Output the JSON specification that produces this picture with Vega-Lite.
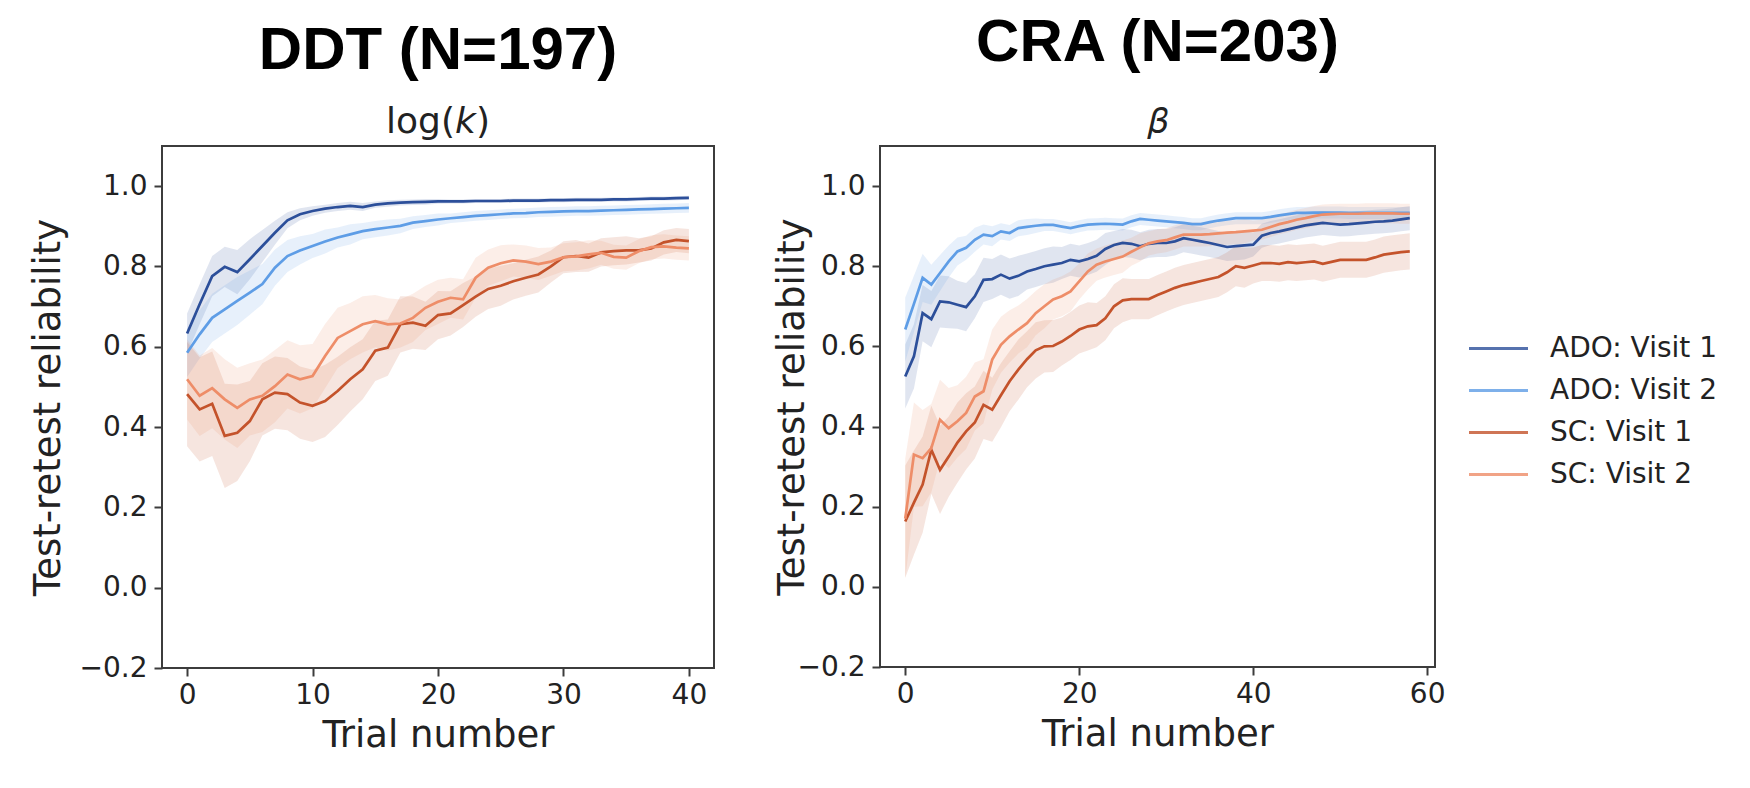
{
  "$schema": "https://vega.github.io/schema/vega-lite/v6.json",
  "background": "white",
  "padding": {"left": 28, "top": 12, "right": 0, "bottom": 0},
  "config": {
    "font": "DejaVu Sans",
    "view": {"stroke": "#3c3c3c", "strokeWidth": 2},
    "axis": {
      "grid": false, "domain": false,
      "tickColor": "#3c3c3c", "tickWidth": 2, "tickSize": 8,
      "labelFont": "DejaVu Sans", "labelFontSize": 28, "labelColor": "#222222",
      "titleFont": "DejaVu Sans", "titleFontSize": 37, "titleFontWeight": "normal", "titleColor": "#222222"
    },
    "axisX": {"labelPadding": 5, "titlePadding": 8},
    "axisY": {"labelPadding": 7, "titlePadding": 12},
    "title": {
      "font": "Liberation Sans", "fontSize": 60, "fontWeight": "bold", "color": "#000000",
      "anchor": "middle", "offset": 5,
      "subtitleFont": "DejaVu Sans", "subtitleFontSize": 36, "subtitleColor": "#222222"
    }
  },
  "datasets": {
    "curves": [
      {"k":"DDT","s":"ADO: Visit 1","t":0,"r":0.633,"lo":0.583,"hi":0.683},
      {"k":"DDT","s":"ADO: Visit 1","t":1,"r":0.706,"lo":0.656,"hi":0.756},
      {"k":"DDT","s":"ADO: Visit 1","t":2,"r":0.776,"lo":0.726,"hi":0.826},
      {"k":"DDT","s":"ADO: Visit 1","t":3,"r":0.799,"lo":0.749,"hi":0.849},
      {"k":"DDT","s":"ADO: Visit 1","t":4,"r":0.786,"lo":0.731,"hi":0.841},
      {"k":"DDT","s":"ADO: Visit 1","t":5,"r":0.818,"lo":0.768,"hi":0.868},
      {"k":"DDT","s":"ADO: Visit 1","t":6,"r":0.851,"lo":0.811,"hi":0.891},
      {"k":"DDT","s":"ADO: Visit 1","t":7,"r":0.884,"lo":0.854,"hi":0.914},
      {"k":"DDT","s":"ADO: Visit 1","t":8,"r":0.915,"lo":0.895,"hi":0.935},
      {"k":"DDT","s":"ADO: Visit 1","t":9,"r":0.930,"lo":0.915,"hi":0.945},
      {"k":"DDT","s":"ADO: Visit 1","t":10,"r":0.938,"lo":0.926,"hi":0.950},
      {"k":"DDT","s":"ADO: Visit 1","t":11,"r":0.944,"lo":0.934,"hi":0.954},
      {"k":"DDT","s":"ADO: Visit 1","t":12,"r":0.948,"lo":0.938,"hi":0.958},
      {"k":"DDT","s":"ADO: Visit 1","t":13,"r":0.951,"lo":0.941,"hi":0.961},
      {"k":"DDT","s":"ADO: Visit 1","t":14,"r":0.948,"lo":0.938,"hi":0.958},
      {"k":"DDT","s":"ADO: Visit 1","t":15,"r":0.954,"lo":0.946,"hi":0.962},
      {"k":"DDT","s":"ADO: Visit 1","t":16,"r":0.957,"lo":0.949,"hi":0.965},
      {"k":"DDT","s":"ADO: Visit 1","t":17,"r":0.959,"lo":0.952,"hi":0.966},
      {"k":"DDT","s":"ADO: Visit 1","t":18,"r":0.960,"lo":0.953,"hi":0.967},
      {"k":"DDT","s":"ADO: Visit 1","t":19,"r":0.961,"lo":0.954,"hi":0.968},
      {"k":"DDT","s":"ADO: Visit 1","t":20,"r":0.962,"lo":0.956,"hi":0.968},
      {"k":"DDT","s":"ADO: Visit 1","t":21,"r":0.962,"lo":0.957,"hi":0.967},
      {"k":"DDT","s":"ADO: Visit 1","t":22,"r":0.962,"lo":0.957,"hi":0.967},
      {"k":"DDT","s":"ADO: Visit 1","t":23,"r":0.963,"lo":0.958,"hi":0.968},
      {"k":"DDT","s":"ADO: Visit 1","t":24,"r":0.963,"lo":0.958,"hi":0.968},
      {"k":"DDT","s":"ADO: Visit 1","t":25,"r":0.963,"lo":0.958,"hi":0.968},
      {"k":"DDT","s":"ADO: Visit 1","t":26,"r":0.964,"lo":0.959,"hi":0.969},
      {"k":"DDT","s":"ADO: Visit 1","t":27,"r":0.964,"lo":0.959,"hi":0.969},
      {"k":"DDT","s":"ADO: Visit 1","t":28,"r":0.964,"lo":0.959,"hi":0.969},
      {"k":"DDT","s":"ADO: Visit 1","t":29,"r":0.965,"lo":0.960,"hi":0.970},
      {"k":"DDT","s":"ADO: Visit 1","t":30,"r":0.965,"lo":0.960,"hi":0.970},
      {"k":"DDT","s":"ADO: Visit 1","t":31,"r":0.966,"lo":0.961,"hi":0.971},
      {"k":"DDT","s":"ADO: Visit 1","t":32,"r":0.966,"lo":0.961,"hi":0.971},
      {"k":"DDT","s":"ADO: Visit 1","t":33,"r":0.966,"lo":0.961,"hi":0.971},
      {"k":"DDT","s":"ADO: Visit 1","t":34,"r":0.967,"lo":0.962,"hi":0.972},
      {"k":"DDT","s":"ADO: Visit 1","t":35,"r":0.967,"lo":0.962,"hi":0.972},
      {"k":"DDT","s":"ADO: Visit 1","t":36,"r":0.968,"lo":0.963,"hi":0.973},
      {"k":"DDT","s":"ADO: Visit 1","t":37,"r":0.969,"lo":0.964,"hi":0.974},
      {"k":"DDT","s":"ADO: Visit 1","t":38,"r":0.969,"lo":0.964,"hi":0.974},
      {"k":"DDT","s":"ADO: Visit 1","t":39,"r":0.970,"lo":0.965,"hi":0.975},
      {"k":"DDT","s":"ADO: Visit 1","t":40,"r":0.971,"lo":0.966,"hi":0.976},

      {"k":"DDT","s":"ADO: Visit 2","t":0,"r":0.585,"lo":0.525,"hi":0.645},
      {"k":"DDT","s":"ADO: Visit 2","t":1,"r":0.631,"lo":0.571,"hi":0.691},
      {"k":"DDT","s":"ADO: Visit 2","t":2,"r":0.672,"lo":0.612,"hi":0.732},
      {"k":"DDT","s":"ADO: Visit 2","t":3,"r":0.693,"lo":0.633,"hi":0.753},
      {"k":"DDT","s":"ADO: Visit 2","t":4,"r":0.714,"lo":0.654,"hi":0.774},
      {"k":"DDT","s":"ADO: Visit 2","t":5,"r":0.735,"lo":0.680,"hi":0.790},
      {"k":"DDT","s":"ADO: Visit 2","t":6,"r":0.756,"lo":0.706,"hi":0.806},
      {"k":"DDT","s":"ADO: Visit 2","t":7,"r":0.797,"lo":0.752,"hi":0.842},
      {"k":"DDT","s":"ADO: Visit 2","t":8,"r":0.826,"lo":0.786,"hi":0.866},
      {"k":"DDT","s":"ADO: Visit 2","t":9,"r":0.840,"lo":0.805,"hi":0.875},
      {"k":"DDT","s":"ADO: Visit 2","t":10,"r":0.851,"lo":0.821,"hi":0.881},
      {"k":"DDT","s":"ADO: Visit 2","t":11,"r":0.862,"lo":0.832,"hi":0.892},
      {"k":"DDT","s":"ADO: Visit 2","t":12,"r":0.872,"lo":0.847,"hi":0.897},
      {"k":"DDT","s":"ADO: Visit 2","t":13,"r":0.880,"lo":0.855,"hi":0.905},
      {"k":"DDT","s":"ADO: Visit 2","t":14,"r":0.888,"lo":0.868,"hi":0.908},
      {"k":"DDT","s":"ADO: Visit 2","t":15,"r":0.893,"lo":0.873,"hi":0.913},
      {"k":"DDT","s":"ADO: Visit 2","t":16,"r":0.897,"lo":0.877,"hi":0.917},
      {"k":"DDT","s":"ADO: Visit 2","t":17,"r":0.901,"lo":0.883,"hi":0.919},
      {"k":"DDT","s":"ADO: Visit 2","t":18,"r":0.909,"lo":0.893,"hi":0.925},
      {"k":"DDT","s":"ADO: Visit 2","t":19,"r":0.913,"lo":0.898,"hi":0.928},
      {"k":"DDT","s":"ADO: Visit 2","t":20,"r":0.917,"lo":0.902,"hi":0.932},
      {"k":"DDT","s":"ADO: Visit 2","t":21,"r":0.920,"lo":0.908,"hi":0.932},
      {"k":"DDT","s":"ADO: Visit 2","t":22,"r":0.923,"lo":0.911,"hi":0.935},
      {"k":"DDT","s":"ADO: Visit 2","t":23,"r":0.926,"lo":0.914,"hi":0.938},
      {"k":"DDT","s":"ADO: Visit 2","t":24,"r":0.928,"lo":0.916,"hi":0.940},
      {"k":"DDT","s":"ADO: Visit 2","t":25,"r":0.930,"lo":0.918,"hi":0.942},
      {"k":"DDT","s":"ADO: Visit 2","t":26,"r":0.932,"lo":0.920,"hi":0.944},
      {"k":"DDT","s":"ADO: Visit 2","t":27,"r":0.933,"lo":0.921,"hi":0.945},
      {"k":"DDT","s":"ADO: Visit 2","t":28,"r":0.935,"lo":0.923,"hi":0.947},
      {"k":"DDT","s":"ADO: Visit 2","t":29,"r":0.936,"lo":0.924,"hi":0.948},
      {"k":"DDT","s":"ADO: Visit 2","t":30,"r":0.937,"lo":0.925,"hi":0.949},
      {"k":"DDT","s":"ADO: Visit 2","t":31,"r":0.938,"lo":0.926,"hi":0.950},
      {"k":"DDT","s":"ADO: Visit 2","t":32,"r":0.938,"lo":0.926,"hi":0.950},
      {"k":"DDT","s":"ADO: Visit 2","t":33,"r":0.939,"lo":0.927,"hi":0.951},
      {"k":"DDT","s":"ADO: Visit 2","t":34,"r":0.940,"lo":0.928,"hi":0.952},
      {"k":"DDT","s":"ADO: Visit 2","t":35,"r":0.941,"lo":0.929,"hi":0.953},
      {"k":"DDT","s":"ADO: Visit 2","t":36,"r":0.942,"lo":0.930,"hi":0.954},
      {"k":"DDT","s":"ADO: Visit 2","t":37,"r":0.943,"lo":0.931,"hi":0.955},
      {"k":"DDT","s":"ADO: Visit 2","t":38,"r":0.944,"lo":0.932,"hi":0.956},
      {"k":"DDT","s":"ADO: Visit 2","t":39,"r":0.945,"lo":0.933,"hi":0.957},
      {"k":"DDT","s":"ADO: Visit 2","t":40,"r":0.946,"lo":0.934,"hi":0.958},

      {"k":"DDT","s":"SC: Visit 1","t":0,"r":0.482,"lo":0.352,"hi":0.612},
      {"k":"DDT","s":"SC: Visit 1","t":1,"r":0.444,"lo":0.314,"hi":0.574},
      {"k":"DDT","s":"SC: Visit 1","t":2,"r":0.458,"lo":0.328,"hi":0.588},
      {"k":"DDT","s":"SC: Visit 1","t":3,"r":0.378,"lo":0.248,"hi":0.508},
      {"k":"DDT","s":"SC: Visit 1","t":4,"r":0.386,"lo":0.266,"hi":0.506},
      {"k":"DDT","s":"SC: Visit 1","t":5,"r":0.415,"lo":0.315,"hi":0.515},
      {"k":"DDT","s":"SC: Visit 1","t":6,"r":0.469,"lo":0.379,"hi":0.559},
      {"k":"DDT","s":"SC: Visit 1","t":7,"r":0.486,"lo":0.396,"hi":0.576},
      {"k":"DDT","s":"SC: Visit 1","t":8,"r":0.482,"lo":0.392,"hi":0.572},
      {"k":"DDT","s":"SC: Visit 1","t":9,"r":0.461,"lo":0.371,"hi":0.551},
      {"k":"DDT","s":"SC: Visit 1","t":10,"r":0.453,"lo":0.363,"hi":0.543},
      {"k":"DDT","s":"SC: Visit 1","t":11,"r":0.465,"lo":0.375,"hi":0.555},
      {"k":"DDT","s":"SC: Visit 1","t":12,"r":0.490,"lo":0.405,"hi":0.575},
      {"k":"DDT","s":"SC: Visit 1","t":13,"r":0.519,"lo":0.439,"hi":0.599},
      {"k":"DDT","s":"SC: Visit 1","t":14,"r":0.544,"lo":0.469,"hi":0.619},
      {"k":"DDT","s":"SC: Visit 1","t":15,"r":0.590,"lo":0.515,"hi":0.665},
      {"k":"DDT","s":"SC: Visit 1","t":16,"r":0.598,"lo":0.528,"hi":0.668},
      {"k":"DDT","s":"SC: Visit 1","t":17,"r":0.656,"lo":0.586,"hi":0.726},
      {"k":"DDT","s":"SC: Visit 1","t":18,"r":0.660,"lo":0.595,"hi":0.725},
      {"k":"DDT","s":"SC: Visit 1","t":19,"r":0.652,"lo":0.592,"hi":0.712},
      {"k":"DDT","s":"SC: Visit 1","t":20,"r":0.679,"lo":0.619,"hi":0.739},
      {"k":"DDT","s":"SC: Visit 1","t":21,"r":0.683,"lo":0.628,"hi":0.738},
      {"k":"DDT","s":"SC: Visit 1","t":22,"r":0.704,"lo":0.649,"hi":0.759},
      {"k":"DDT","s":"SC: Visit 1","t":23,"r":0.725,"lo":0.675,"hi":0.775},
      {"k":"DDT","s":"SC: Visit 1","t":24,"r":0.744,"lo":0.694,"hi":0.794},
      {"k":"DDT","s":"SC: Visit 1","t":25,"r":0.752,"lo":0.702,"hi":0.802},
      {"k":"DDT","s":"SC: Visit 1","t":26,"r":0.763,"lo":0.718,"hi":0.808},
      {"k":"DDT","s":"SC: Visit 1","t":27,"r":0.772,"lo":0.727,"hi":0.817},
      {"k":"DDT","s":"SC: Visit 1","t":28,"r":0.780,"lo":0.735,"hi":0.825},
      {"k":"DDT","s":"SC: Visit 1","t":29,"r":0.800,"lo":0.760,"hi":0.840},
      {"k":"DDT","s":"SC: Visit 1","t":30,"r":0.823,"lo":0.783,"hi":0.863},
      {"k":"DDT","s":"SC: Visit 1","t":31,"r":0.826,"lo":0.786,"hi":0.866},
      {"k":"DDT","s":"SC: Visit 1","t":32,"r":0.822,"lo":0.787,"hi":0.857},
      {"k":"DDT","s":"SC: Visit 1","t":33,"r":0.835,"lo":0.800,"hi":0.870},
      {"k":"DDT","s":"SC: Visit 1","t":34,"r":0.838,"lo":0.803,"hi":0.873},
      {"k":"DDT","s":"SC: Visit 1","t":35,"r":0.840,"lo":0.805,"hi":0.875},
      {"k":"DDT","s":"SC: Visit 1","t":36,"r":0.840,"lo":0.810,"hi":0.870},
      {"k":"DDT","s":"SC: Visit 1","t":37,"r":0.845,"lo":0.815,"hi":0.875},
      {"k":"DDT","s":"SC: Visit 1","t":38,"r":0.860,"lo":0.830,"hi":0.890},
      {"k":"DDT","s":"SC: Visit 1","t":39,"r":0.866,"lo":0.836,"hi":0.896},
      {"k":"DDT","s":"SC: Visit 1","t":40,"r":0.863,"lo":0.833,"hi":0.893},

      {"k":"DDT","s":"SC: Visit 2","t":0,"r":0.519,"lo":0.419,"hi":0.619},
      {"k":"DDT","s":"SC: Visit 2","t":1,"r":0.478,"lo":0.378,"hi":0.578},
      {"k":"DDT","s":"SC: Visit 2","t":2,"r":0.497,"lo":0.397,"hi":0.597},
      {"k":"DDT","s":"SC: Visit 2","t":3,"r":0.469,"lo":0.369,"hi":0.569},
      {"k":"DDT","s":"SC: Visit 2","t":4,"r":0.448,"lo":0.348,"hi":0.548},
      {"k":"DDT","s":"SC: Visit 2","t":5,"r":0.469,"lo":0.379,"hi":0.559},
      {"k":"DDT","s":"SC: Visit 2","t":6,"r":0.478,"lo":0.388,"hi":0.568},
      {"k":"DDT","s":"SC: Visit 2","t":7,"r":0.502,"lo":0.412,"hi":0.592},
      {"k":"DDT","s":"SC: Visit 2","t":8,"r":0.531,"lo":0.446,"hi":0.616},
      {"k":"DDT","s":"SC: Visit 2","t":9,"r":0.519,"lo":0.434,"hi":0.604},
      {"k":"DDT","s":"SC: Visit 2","t":10,"r":0.527,"lo":0.447,"hi":0.607},
      {"k":"DDT","s":"SC: Visit 2","t":11,"r":0.577,"lo":0.497,"hi":0.657},
      {"k":"DDT","s":"SC: Visit 2","t":12,"r":0.622,"lo":0.547,"hi":0.697},
      {"k":"DDT","s":"SC: Visit 2","t":13,"r":0.639,"lo":0.569,"hi":0.709},
      {"k":"DDT","s":"SC: Visit 2","t":14,"r":0.656,"lo":0.586,"hi":0.726},
      {"k":"DDT","s":"SC: Visit 2","t":15,"r":0.664,"lo":0.599,"hi":0.729},
      {"k":"DDT","s":"SC: Visit 2","t":16,"r":0.656,"lo":0.591,"hi":0.721},
      {"k":"DDT","s":"SC: Visit 2","t":17,"r":0.658,"lo":0.598,"hi":0.718},
      {"k":"DDT","s":"SC: Visit 2","t":18,"r":0.672,"lo":0.612,"hi":0.732},
      {"k":"DDT","s":"SC: Visit 2","t":19,"r":0.697,"lo":0.642,"hi":0.752},
      {"k":"DDT","s":"SC: Visit 2","t":20,"r":0.712,"lo":0.657,"hi":0.767},
      {"k":"DDT","s":"SC: Visit 2","t":21,"r":0.722,"lo":0.672,"hi":0.772},
      {"k":"DDT","s":"SC: Visit 2","t":22,"r":0.718,"lo":0.668,"hi":0.768},
      {"k":"DDT","s":"SC: Visit 2","t":23,"r":0.772,"lo":0.722,"hi":0.822},
      {"k":"DDT","s":"SC: Visit 2","t":24,"r":0.797,"lo":0.752,"hi":0.842},
      {"k":"DDT","s":"SC: Visit 2","t":25,"r":0.808,"lo":0.763,"hi":0.853},
      {"k":"DDT","s":"SC: Visit 2","t":26,"r":0.815,"lo":0.775,"hi":0.855},
      {"k":"DDT","s":"SC: Visit 2","t":27,"r":0.812,"lo":0.772,"hi":0.852},
      {"k":"DDT","s":"SC: Visit 2","t":28,"r":0.806,"lo":0.766,"hi":0.846},
      {"k":"DDT","s":"SC: Visit 2","t":29,"r":0.812,"lo":0.777,"hi":0.847},
      {"k":"DDT","s":"SC: Visit 2","t":30,"r":0.823,"lo":0.788,"hi":0.858},
      {"k":"DDT","s":"SC: Visit 2","t":31,"r":0.825,"lo":0.790,"hi":0.860},
      {"k":"DDT","s":"SC: Visit 2","t":32,"r":0.830,"lo":0.795,"hi":0.865},
      {"k":"DDT","s":"SC: Visit 2","t":33,"r":0.834,"lo":0.804,"hi":0.864},
      {"k":"DDT","s":"SC: Visit 2","t":34,"r":0.824,"lo":0.794,"hi":0.854},
      {"k":"DDT","s":"SC: Visit 2","t":35,"r":0.822,"lo":0.792,"hi":0.852},
      {"k":"DDT","s":"SC: Visit 2","t":36,"r":0.838,"lo":0.808,"hi":0.868},
      {"k":"DDT","s":"SC: Visit 2","t":37,"r":0.848,"lo":0.818,"hi":0.878},
      {"k":"DDT","s":"SC: Visit 2","t":38,"r":0.850,"lo":0.820,"hi":0.880},
      {"k":"DDT","s":"SC: Visit 2","t":39,"r":0.847,"lo":0.817,"hi":0.877},
      {"k":"DDT","s":"SC: Visit 2","t":40,"r":0.845,"lo":0.815,"hi":0.875},

      {"k":"CRA","s":"ADO: Visit 1","t":0,"r":0.525,"lo":0.445,"hi":0.605},
      {"k":"CRA","s":"ADO: Visit 1","t":1,"r":0.575,"lo":0.495,"hi":0.655},
      {"k":"CRA","s":"ADO: Visit 1","t":2,"r":0.683,"lo":0.613,"hi":0.753},
      {"k":"CRA","s":"ADO: Visit 1","t":3,"r":0.668,"lo":0.598,"hi":0.738},
      {"k":"CRA","s":"ADO: Visit 1","t":4,"r":0.712,"lo":0.647,"hi":0.777},
      {"k":"CRA","s":"ADO: Visit 1","t":5,"r":0.710,"lo":0.645,"hi":0.775},
      {"k":"CRA","s":"ADO: Visit 1","t":6,"r":0.704,"lo":0.644,"hi":0.764},
      {"k":"CRA","s":"ADO: Visit 1","t":7,"r":0.698,"lo":0.638,"hi":0.758},
      {"k":"CRA","s":"ADO: Visit 1","t":8,"r":0.725,"lo":0.670,"hi":0.780},
      {"k":"CRA","s":"ADO: Visit 1","t":9,"r":0.766,"lo":0.711,"hi":0.821},
      {"k":"CRA","s":"ADO: Visit 1","t":10,"r":0.768,"lo":0.718,"hi":0.818},
      {"k":"CRA","s":"ADO: Visit 1","t":11,"r":0.779,"lo":0.729,"hi":0.829},
      {"k":"CRA","s":"ADO: Visit 1","t":12,"r":0.769,"lo":0.719,"hi":0.819},
      {"k":"CRA","s":"ADO: Visit 1","t":13,"r":0.776,"lo":0.726,"hi":0.826},
      {"k":"CRA","s":"ADO: Visit 1","t":14,"r":0.787,"lo":0.742,"hi":0.832},
      {"k":"CRA","s":"ADO: Visit 1","t":15,"r":0.793,"lo":0.748,"hi":0.838},
      {"k":"CRA","s":"ADO: Visit 1","t":16,"r":0.800,"lo":0.755,"hi":0.845},
      {"k":"CRA","s":"ADO: Visit 1","t":17,"r":0.804,"lo":0.759,"hi":0.849},
      {"k":"CRA","s":"ADO: Visit 1","t":18,"r":0.808,"lo":0.768,"hi":0.848},
      {"k":"CRA","s":"ADO: Visit 1","t":19,"r":0.816,"lo":0.776,"hi":0.856},
      {"k":"CRA","s":"ADO: Visit 1","t":20,"r":0.812,"lo":0.772,"hi":0.852},
      {"k":"CRA","s":"ADO: Visit 1","t":21,"r":0.818,"lo":0.778,"hi":0.858},
      {"k":"CRA","s":"ADO: Visit 1","t":22,"r":0.826,"lo":0.786,"hi":0.866},
      {"k":"CRA","s":"ADO: Visit 1","t":23,"r":0.843,"lo":0.803,"hi":0.883},
      {"k":"CRA","s":"ADO: Visit 1","t":24,"r":0.853,"lo":0.818,"hi":0.888},
      {"k":"CRA","s":"ADO: Visit 1","t":25,"r":0.858,"lo":0.823,"hi":0.893},
      {"k":"CRA","s":"ADO: Visit 1","t":26,"r":0.856,"lo":0.821,"hi":0.891},
      {"k":"CRA","s":"ADO: Visit 1","t":27,"r":0.850,"lo":0.815,"hi":0.885},
      {"k":"CRA","s":"ADO: Visit 1","t":28,"r":0.856,"lo":0.821,"hi":0.891},
      {"k":"CRA","s":"ADO: Visit 1","t":29,"r":0.858,"lo":0.823,"hi":0.893},
      {"k":"CRA","s":"ADO: Visit 1","t":30,"r":0.858,"lo":0.823,"hi":0.893},
      {"k":"CRA","s":"ADO: Visit 1","t":31,"r":0.862,"lo":0.827,"hi":0.897},
      {"k":"CRA","s":"ADO: Visit 1","t":32,"r":0.870,"lo":0.835,"hi":0.905},
      {"k":"CRA","s":"ADO: Visit 1","t":33,"r":0.866,"lo":0.831,"hi":0.901},
      {"k":"CRA","s":"ADO: Visit 1","t":34,"r":0.862,"lo":0.827,"hi":0.897},
      {"k":"CRA","s":"ADO: Visit 1","t":35,"r":0.858,"lo":0.823,"hi":0.893},
      {"k":"CRA","s":"ADO: Visit 1","t":36,"r":0.853,"lo":0.818,"hi":0.888},
      {"k":"CRA","s":"ADO: Visit 1","t":37,"r":0.848,"lo":0.813,"hi":0.883},
      {"k":"CRA","s":"ADO: Visit 1","t":38,"r":0.850,"lo":0.815,"hi":0.885},
      {"k":"CRA","s":"ADO: Visit 1","t":39,"r":0.852,"lo":0.817,"hi":0.887},
      {"k":"CRA","s":"ADO: Visit 1","t":40,"r":0.854,"lo":0.824,"hi":0.884},
      {"k":"CRA","s":"ADO: Visit 1","t":41,"r":0.876,"lo":0.846,"hi":0.906},
      {"k":"CRA","s":"ADO: Visit 1","t":42,"r":0.883,"lo":0.853,"hi":0.913},
      {"k":"CRA","s":"ADO: Visit 1","t":43,"r":0.887,"lo":0.857,"hi":0.917},
      {"k":"CRA","s":"ADO: Visit 1","t":44,"r":0.892,"lo":0.862,"hi":0.922},
      {"k":"CRA","s":"ADO: Visit 1","t":45,"r":0.897,"lo":0.867,"hi":0.927},
      {"k":"CRA","s":"ADO: Visit 1","t":46,"r":0.902,"lo":0.872,"hi":0.932},
      {"k":"CRA","s":"ADO: Visit 1","t":47,"r":0.905,"lo":0.875,"hi":0.935},
      {"k":"CRA","s":"ADO: Visit 1","t":48,"r":0.908,"lo":0.878,"hi":0.938},
      {"k":"CRA","s":"ADO: Visit 1","t":49,"r":0.906,"lo":0.876,"hi":0.936},
      {"k":"CRA","s":"ADO: Visit 1","t":50,"r":0.904,"lo":0.874,"hi":0.934},
      {"k":"CRA","s":"ADO: Visit 1","t":51,"r":0.905,"lo":0.875,"hi":0.935},
      {"k":"CRA","s":"ADO: Visit 1","t":52,"r":0.907,"lo":0.877,"hi":0.937},
      {"k":"CRA","s":"ADO: Visit 1","t":53,"r":0.909,"lo":0.879,"hi":0.939},
      {"k":"CRA","s":"ADO: Visit 1","t":54,"r":0.911,"lo":0.881,"hi":0.941},
      {"k":"CRA","s":"ADO: Visit 1","t":55,"r":0.912,"lo":0.882,"hi":0.942},
      {"k":"CRA","s":"ADO: Visit 1","t":56,"r":0.914,"lo":0.884,"hi":0.944},
      {"k":"CRA","s":"ADO: Visit 1","t":57,"r":0.917,"lo":0.887,"hi":0.947},
      {"k":"CRA","s":"ADO: Visit 1","t":58,"r":0.920,"lo":0.890,"hi":0.950},

      {"k":"CRA","s":"ADO: Visit 2","t":0,"r":0.642,"lo":0.562,"hi":0.722},
      {"k":"CRA","s":"ADO: Visit 2","t":1,"r":0.706,"lo":0.636,"hi":0.776},
      {"k":"CRA","s":"ADO: Visit 2","t":2,"r":0.771,"lo":0.711,"hi":0.831},
      {"k":"CRA","s":"ADO: Visit 2","t":3,"r":0.754,"lo":0.704,"hi":0.804},
      {"k":"CRA","s":"ADO: Visit 2","t":4,"r":0.783,"lo":0.738,"hi":0.828},
      {"k":"CRA","s":"ADO: Visit 2","t":5,"r":0.812,"lo":0.772,"hi":0.852},
      {"k":"CRA","s":"ADO: Visit 2","t":6,"r":0.837,"lo":0.802,"hi":0.872},
      {"k":"CRA","s":"ADO: Visit 2","t":7,"r":0.846,"lo":0.816,"hi":0.876},
      {"k":"CRA","s":"ADO: Visit 2","t":8,"r":0.866,"lo":0.836,"hi":0.896},
      {"k":"CRA","s":"ADO: Visit 2","t":9,"r":0.879,"lo":0.854,"hi":0.904},
      {"k":"CRA","s":"ADO: Visit 2","t":10,"r":0.875,"lo":0.850,"hi":0.900},
      {"k":"CRA","s":"ADO: Visit 2","t":11,"r":0.887,"lo":0.867,"hi":0.907},
      {"k":"CRA","s":"ADO: Visit 2","t":12,"r":0.883,"lo":0.863,"hi":0.903},
      {"k":"CRA","s":"ADO: Visit 2","t":13,"r":0.895,"lo":0.875,"hi":0.915},
      {"k":"CRA","s":"ADO: Visit 2","t":14,"r":0.898,"lo":0.878,"hi":0.918},
      {"k":"CRA","s":"ADO: Visit 2","t":15,"r":0.901,"lo":0.883,"hi":0.919},
      {"k":"CRA","s":"ADO: Visit 2","t":16,"r":0.903,"lo":0.888,"hi":0.918},
      {"k":"CRA","s":"ADO: Visit 2","t":17,"r":0.903,"lo":0.888,"hi":0.918},
      {"k":"CRA","s":"ADO: Visit 2","t":18,"r":0.899,"lo":0.884,"hi":0.914},
      {"k":"CRA","s":"ADO: Visit 2","t":19,"r":0.895,"lo":0.880,"hi":0.910},
      {"k":"CRA","s":"ADO: Visit 2","t":20,"r":0.900,"lo":0.885,"hi":0.915},
      {"k":"CRA","s":"ADO: Visit 2","t":21,"r":0.904,"lo":0.889,"hi":0.919},
      {"k":"CRA","s":"ADO: Visit 2","t":22,"r":0.905,"lo":0.890,"hi":0.920},
      {"k":"CRA","s":"ADO: Visit 2","t":23,"r":0.906,"lo":0.891,"hi":0.921},
      {"k":"CRA","s":"ADO: Visit 2","t":24,"r":0.905,"lo":0.890,"hi":0.920},
      {"k":"CRA","s":"ADO: Visit 2","t":25,"r":0.904,"lo":0.889,"hi":0.919},
      {"k":"CRA","s":"ADO: Visit 2","t":26,"r":0.912,"lo":0.897,"hi":0.927},
      {"k":"CRA","s":"ADO: Visit 2","t":27,"r":0.918,"lo":0.903,"hi":0.933},
      {"k":"CRA","s":"ADO: Visit 2","t":28,"r":0.916,"lo":0.901,"hi":0.931},
      {"k":"CRA","s":"ADO: Visit 2","t":29,"r":0.914,"lo":0.899,"hi":0.929},
      {"k":"CRA","s":"ADO: Visit 2","t":30,"r":0.912,"lo":0.897,"hi":0.927},
      {"k":"CRA","s":"ADO: Visit 2","t":31,"r":0.910,"lo":0.895,"hi":0.925},
      {"k":"CRA","s":"ADO: Visit 2","t":32,"r":0.908,"lo":0.893,"hi":0.923},
      {"k":"CRA","s":"ADO: Visit 2","t":33,"r":0.905,"lo":0.890,"hi":0.920},
      {"k":"CRA","s":"ADO: Visit 2","t":34,"r":0.905,"lo":0.890,"hi":0.920},
      {"k":"CRA","s":"ADO: Visit 2","t":35,"r":0.910,"lo":0.895,"hi":0.925},
      {"k":"CRA","s":"ADO: Visit 2","t":36,"r":0.914,"lo":0.899,"hi":0.929},
      {"k":"CRA","s":"ADO: Visit 2","t":37,"r":0.917,"lo":0.902,"hi":0.932},
      {"k":"CRA","s":"ADO: Visit 2","t":38,"r":0.920,"lo":0.905,"hi":0.935},
      {"k":"CRA","s":"ADO: Visit 2","t":39,"r":0.920,"lo":0.905,"hi":0.935},
      {"k":"CRA","s":"ADO: Visit 2","t":40,"r":0.920,"lo":0.905,"hi":0.935},
      {"k":"CRA","s":"ADO: Visit 2","t":41,"r":0.920,"lo":0.905,"hi":0.935},
      {"k":"CRA","s":"ADO: Visit 2","t":42,"r":0.923,"lo":0.908,"hi":0.938},
      {"k":"CRA","s":"ADO: Visit 2","t":43,"r":0.927,"lo":0.912,"hi":0.942},
      {"k":"CRA","s":"ADO: Visit 2","t":44,"r":0.930,"lo":0.915,"hi":0.945},
      {"k":"CRA","s":"ADO: Visit 2","t":45,"r":0.933,"lo":0.918,"hi":0.948},
      {"k":"CRA","s":"ADO: Visit 2","t":46,"r":0.933,"lo":0.918,"hi":0.948},
      {"k":"CRA","s":"ADO: Visit 2","t":47,"r":0.934,"lo":0.919,"hi":0.949},
      {"k":"CRA","s":"ADO: Visit 2","t":48,"r":0.934,"lo":0.919,"hi":0.949},
      {"k":"CRA","s":"ADO: Visit 2","t":49,"r":0.934,"lo":0.919,"hi":0.949},
      {"k":"CRA","s":"ADO: Visit 2","t":50,"r":0.934,"lo":0.919,"hi":0.949},
      {"k":"CRA","s":"ADO: Visit 2","t":51,"r":0.933,"lo":0.918,"hi":0.948},
      {"k":"CRA","s":"ADO: Visit 2","t":52,"r":0.933,"lo":0.918,"hi":0.948},
      {"k":"CRA","s":"ADO: Visit 2","t":53,"r":0.933,"lo":0.918,"hi":0.948},
      {"k":"CRA","s":"ADO: Visit 2","t":54,"r":0.933,"lo":0.918,"hi":0.948},
      {"k":"CRA","s":"ADO: Visit 2","t":55,"r":0.933,"lo":0.918,"hi":0.948},
      {"k":"CRA","s":"ADO: Visit 2","t":56,"r":0.933,"lo":0.918,"hi":0.948},
      {"k":"CRA","s":"ADO: Visit 2","t":57,"r":0.933,"lo":0.918,"hi":0.948},
      {"k":"CRA","s":"ADO: Visit 2","t":58,"r":0.933,"lo":0.918,"hi":0.948},

      {"k":"CRA","s":"SC: Visit 1","t":0,"r":0.163,"lo":0.023,"hi":0.303},
      {"k":"CRA","s":"SC: Visit 1","t":1,"r":0.210,"lo":0.080,"hi":0.340},
      {"k":"CRA","s":"SC: Visit 1","t":2,"r":0.255,"lo":0.135,"hi":0.375},
      {"k":"CRA","s":"SC: Visit 1","t":3,"r":0.342,"lo":0.232,"hi":0.452},
      {"k":"CRA","s":"SC: Visit 1","t":4,"r":0.292,"lo":0.182,"hi":0.402},
      {"k":"CRA","s":"SC: Visit 1","t":5,"r":0.325,"lo":0.225,"hi":0.425},
      {"k":"CRA","s":"SC: Visit 1","t":6,"r":0.360,"lo":0.260,"hi":0.460},
      {"k":"CRA","s":"SC: Visit 1","t":7,"r":0.388,"lo":0.293,"hi":0.483},
      {"k":"CRA","s":"SC: Visit 1","t":8,"r":0.410,"lo":0.320,"hi":0.500},
      {"k":"CRA","s":"SC: Visit 1","t":9,"r":0.454,"lo":0.369,"hi":0.539},
      {"k":"CRA","s":"SC: Visit 1","t":10,"r":0.442,"lo":0.362,"hi":0.522},
      {"k":"CRA","s":"SC: Visit 1","t":11,"r":0.478,"lo":0.398,"hi":0.558},
      {"k":"CRA","s":"SC: Visit 1","t":12,"r":0.513,"lo":0.438,"hi":0.588},
      {"k":"CRA","s":"SC: Visit 1","t":13,"r":0.542,"lo":0.467,"hi":0.617},
      {"k":"CRA","s":"SC: Visit 1","t":14,"r":0.568,"lo":0.498,"hi":0.638},
      {"k":"CRA","s":"SC: Visit 1","t":15,"r":0.590,"lo":0.520,"hi":0.660},
      {"k":"CRA","s":"SC: Visit 1","t":16,"r":0.600,"lo":0.535,"hi":0.665},
      {"k":"CRA","s":"SC: Visit 1","t":17,"r":0.601,"lo":0.536,"hi":0.666},
      {"k":"CRA","s":"SC: Visit 1","t":18,"r":0.612,"lo":0.552,"hi":0.672},
      {"k":"CRA","s":"SC: Visit 1","t":19,"r":0.626,"lo":0.566,"hi":0.686},
      {"k":"CRA","s":"SC: Visit 1","t":20,"r":0.642,"lo":0.582,"hi":0.702},
      {"k":"CRA","s":"SC: Visit 1","t":21,"r":0.650,"lo":0.590,"hi":0.710},
      {"k":"CRA","s":"SC: Visit 1","t":22,"r":0.653,"lo":0.598,"hi":0.708},
      {"k":"CRA","s":"SC: Visit 1","t":23,"r":0.670,"lo":0.615,"hi":0.725},
      {"k":"CRA","s":"SC: Visit 1","t":24,"r":0.700,"lo":0.645,"hi":0.755},
      {"k":"CRA","s":"SC: Visit 1","t":25,"r":0.715,"lo":0.660,"hi":0.770},
      {"k":"CRA","s":"SC: Visit 1","t":26,"r":0.718,"lo":0.668,"hi":0.768},
      {"k":"CRA","s":"SC: Visit 1","t":27,"r":0.718,"lo":0.668,"hi":0.768},
      {"k":"CRA","s":"SC: Visit 1","t":28,"r":0.718,"lo":0.668,"hi":0.768},
      {"k":"CRA","s":"SC: Visit 1","t":29,"r":0.728,"lo":0.678,"hi":0.778},
      {"k":"CRA","s":"SC: Visit 1","t":30,"r":0.737,"lo":0.687,"hi":0.787},
      {"k":"CRA","s":"SC: Visit 1","t":31,"r":0.746,"lo":0.696,"hi":0.796},
      {"k":"CRA","s":"SC: Visit 1","t":32,"r":0.753,"lo":0.703,"hi":0.803},
      {"k":"CRA","s":"SC: Visit 1","t":33,"r":0.758,"lo":0.708,"hi":0.808},
      {"k":"CRA","s":"SC: Visit 1","t":34,"r":0.763,"lo":0.713,"hi":0.813},
      {"k":"CRA","s":"SC: Visit 1","t":35,"r":0.768,"lo":0.718,"hi":0.818},
      {"k":"CRA","s":"SC: Visit 1","t":36,"r":0.773,"lo":0.723,"hi":0.823},
      {"k":"CRA","s":"SC: Visit 1","t":37,"r":0.785,"lo":0.735,"hi":0.835},
      {"k":"CRA","s":"SC: Visit 1","t":38,"r":0.800,"lo":0.750,"hi":0.850},
      {"k":"CRA","s":"SC: Visit 1","t":39,"r":0.796,"lo":0.746,"hi":0.846},
      {"k":"CRA","s":"SC: Visit 1","t":40,"r":0.802,"lo":0.757,"hi":0.847},
      {"k":"CRA","s":"SC: Visit 1","t":41,"r":0.808,"lo":0.763,"hi":0.853},
      {"k":"CRA","s":"SC: Visit 1","t":42,"r":0.808,"lo":0.763,"hi":0.853},
      {"k":"CRA","s":"SC: Visit 1","t":43,"r":0.806,"lo":0.761,"hi":0.851},
      {"k":"CRA","s":"SC: Visit 1","t":44,"r":0.810,"lo":0.765,"hi":0.855},
      {"k":"CRA","s":"SC: Visit 1","t":45,"r":0.808,"lo":0.763,"hi":0.853},
      {"k":"CRA","s":"SC: Visit 1","t":46,"r":0.810,"lo":0.765,"hi":0.855},
      {"k":"CRA","s":"SC: Visit 1","t":47,"r":0.812,"lo":0.767,"hi":0.857},
      {"k":"CRA","s":"SC: Visit 1","t":48,"r":0.806,"lo":0.761,"hi":0.851},
      {"k":"CRA","s":"SC: Visit 1","t":49,"r":0.811,"lo":0.766,"hi":0.856},
      {"k":"CRA","s":"SC: Visit 1","t":50,"r":0.816,"lo":0.771,"hi":0.861},
      {"k":"CRA","s":"SC: Visit 1","t":51,"r":0.816,"lo":0.771,"hi":0.861},
      {"k":"CRA","s":"SC: Visit 1","t":52,"r":0.816,"lo":0.771,"hi":0.861},
      {"k":"CRA","s":"SC: Visit 1","t":53,"r":0.816,"lo":0.771,"hi":0.861},
      {"k":"CRA","s":"SC: Visit 1","t":54,"r":0.822,"lo":0.777,"hi":0.867},
      {"k":"CRA","s":"SC: Visit 1","t":55,"r":0.829,"lo":0.784,"hi":0.874},
      {"k":"CRA","s":"SC: Visit 1","t":56,"r":0.832,"lo":0.787,"hi":0.877},
      {"k":"CRA","s":"SC: Visit 1","t":57,"r":0.835,"lo":0.790,"hi":0.880},
      {"k":"CRA","s":"SC: Visit 1","t":58,"r":0.837,"lo":0.792,"hi":0.882},

      {"k":"CRA","s":"SC: Visit 2","t":0,"r":0.170,"lo":0.020,"hi":0.320},
      {"k":"CRA","s":"SC: Visit 2","t":1,"r":0.330,"lo":0.200,"hi":0.460},
      {"k":"CRA","s":"SC: Visit 2","t":2,"r":0.321,"lo":0.201,"hi":0.441},
      {"k":"CRA","s":"SC: Visit 2","t":3,"r":0.346,"lo":0.236,"hi":0.456},
      {"k":"CRA","s":"SC: Visit 2","t":4,"r":0.417,"lo":0.317,"hi":0.517},
      {"k":"CRA","s":"SC: Visit 2","t":5,"r":0.396,"lo":0.296,"hi":0.496},
      {"k":"CRA","s":"SC: Visit 2","t":6,"r":0.413,"lo":0.323,"hi":0.503},
      {"k":"CRA","s":"SC: Visit 2","t":7,"r":0.434,"lo":0.344,"hi":0.524},
      {"k":"CRA","s":"SC: Visit 2","t":8,"r":0.475,"lo":0.390,"hi":0.560},
      {"k":"CRA","s":"SC: Visit 2","t":9,"r":0.488,"lo":0.408,"hi":0.568},
      {"k":"CRA","s":"SC: Visit 2","t":10,"r":0.567,"lo":0.492,"hi":0.642},
      {"k":"CRA","s":"SC: Visit 2","t":11,"r":0.604,"lo":0.534,"hi":0.674},
      {"k":"CRA","s":"SC: Visit 2","t":12,"r":0.625,"lo":0.560,"hi":0.690},
      {"k":"CRA","s":"SC: Visit 2","t":13,"r":0.642,"lo":0.582,"hi":0.702},
      {"k":"CRA","s":"SC: Visit 2","t":14,"r":0.658,"lo":0.598,"hi":0.718},
      {"k":"CRA","s":"SC: Visit 2","t":15,"r":0.683,"lo":0.628,"hi":0.738},
      {"k":"CRA","s":"SC: Visit 2","t":16,"r":0.700,"lo":0.645,"hi":0.755},
      {"k":"CRA","s":"SC: Visit 2","t":17,"r":0.717,"lo":0.667,"hi":0.767},
      {"k":"CRA","s":"SC: Visit 2","t":18,"r":0.725,"lo":0.675,"hi":0.775},
      {"k":"CRA","s":"SC: Visit 2","t":19,"r":0.737,"lo":0.687,"hi":0.787},
      {"k":"CRA","s":"SC: Visit 2","t":20,"r":0.762,"lo":0.717,"hi":0.807},
      {"k":"CRA","s":"SC: Visit 2","t":21,"r":0.787,"lo":0.742,"hi":0.832},
      {"k":"CRA","s":"SC: Visit 2","t":22,"r":0.804,"lo":0.764,"hi":0.844},
      {"k":"CRA","s":"SC: Visit 2","t":23,"r":0.812,"lo":0.772,"hi":0.852},
      {"k":"CRA","s":"SC: Visit 2","t":24,"r":0.818,"lo":0.778,"hi":0.858},
      {"k":"CRA","s":"SC: Visit 2","t":25,"r":0.824,"lo":0.784,"hi":0.864},
      {"k":"CRA","s":"SC: Visit 2","t":26,"r":0.836,"lo":0.801,"hi":0.871},
      {"k":"CRA","s":"SC: Visit 2","t":27,"r":0.847,"lo":0.812,"hi":0.882},
      {"k":"CRA","s":"SC: Visit 2","t":28,"r":0.857,"lo":0.827,"hi":0.887},
      {"k":"CRA","s":"SC: Visit 2","t":29,"r":0.862,"lo":0.832,"hi":0.892},
      {"k":"CRA","s":"SC: Visit 2","t":30,"r":0.865,"lo":0.835,"hi":0.895},
      {"k":"CRA","s":"SC: Visit 2","t":31,"r":0.872,"lo":0.842,"hi":0.902},
      {"k":"CRA","s":"SC: Visit 2","t":32,"r":0.879,"lo":0.849,"hi":0.909},
      {"k":"CRA","s":"SC: Visit 2","t":33,"r":0.879,"lo":0.849,"hi":0.909},
      {"k":"CRA","s":"SC: Visit 2","t":34,"r":0.879,"lo":0.849,"hi":0.909},
      {"k":"CRA","s":"SC: Visit 2","t":35,"r":0.880,"lo":0.850,"hi":0.910},
      {"k":"CRA","s":"SC: Visit 2","t":36,"r":0.882,"lo":0.852,"hi":0.912},
      {"k":"CRA","s":"SC: Visit 2","t":37,"r":0.884,"lo":0.854,"hi":0.914},
      {"k":"CRA","s":"SC: Visit 2","t":38,"r":0.885,"lo":0.855,"hi":0.915},
      {"k":"CRA","s":"SC: Visit 2","t":39,"r":0.887,"lo":0.857,"hi":0.917},
      {"k":"CRA","s":"SC: Visit 2","t":40,"r":0.889,"lo":0.864,"hi":0.914},
      {"k":"CRA","s":"SC: Visit 2","t":41,"r":0.891,"lo":0.866,"hi":0.916},
      {"k":"CRA","s":"SC: Visit 2","t":42,"r":0.898,"lo":0.873,"hi":0.923},
      {"k":"CRA","s":"SC: Visit 2","t":43,"r":0.905,"lo":0.880,"hi":0.930},
      {"k":"CRA","s":"SC: Visit 2","t":44,"r":0.910,"lo":0.885,"hi":0.935},
      {"k":"CRA","s":"SC: Visit 2","t":45,"r":0.916,"lo":0.891,"hi":0.941},
      {"k":"CRA","s":"SC: Visit 2","t":46,"r":0.920,"lo":0.895,"hi":0.945},
      {"k":"CRA","s":"SC: Visit 2","t":47,"r":0.925,"lo":0.900,"hi":0.950},
      {"k":"CRA","s":"SC: Visit 2","t":48,"r":0.929,"lo":0.904,"hi":0.954},
      {"k":"CRA","s":"SC: Visit 2","t":49,"r":0.930,"lo":0.905,"hi":0.955},
      {"k":"CRA","s":"SC: Visit 2","t":50,"r":0.931,"lo":0.906,"hi":0.956},
      {"k":"CRA","s":"SC: Visit 2","t":51,"r":0.931,"lo":0.906,"hi":0.956},
      {"k":"CRA","s":"SC: Visit 2","t":52,"r":0.931,"lo":0.906,"hi":0.956},
      {"k":"CRA","s":"SC: Visit 2","t":53,"r":0.932,"lo":0.907,"hi":0.957},
      {"k":"CRA","s":"SC: Visit 2","t":54,"r":0.932,"lo":0.907,"hi":0.957},
      {"k":"CRA","s":"SC: Visit 2","t":55,"r":0.932,"lo":0.907,"hi":0.957},
      {"k":"CRA","s":"SC: Visit 2","t":56,"r":0.932,"lo":0.907,"hi":0.957},
      {"k":"CRA","s":"SC: Visit 2","t":57,"r":0.931,"lo":0.906,"hi":0.956},
      {"k":"CRA","s":"SC: Visit 2","t":58,"r":0.931,"lo":0.906,"hi":0.956}
    ]
  },
  "spacing": 57,
  "align": "none",
  "resolve": {"scale": {"color": "independent"}},
  "hconcat": [
    {
      "width": 552,
      "height": 522,
      "title": {"text": "DDT (N=197)", "subtitle": "log(𝘬)", "subtitlePadding": 23},
      "data": {"name": "curves"},
      "transform": [{"filter": "datum.k === 'DDT'"}],
      "layer": [
        {
          "mark": {"type": "area", "opacity": 0.15},
          "encoding": {
            "x": {"field": "t", "type": "quantitative", "scale": {"domain": [-2, 42], "nice": false, "zero": false},
                  "axis": {"values": [0, 10, 20, 30, 40], "title": "Trial number"}},
            "y": {"field": "lo", "type": "quantitative", "scale": {"domain": [-0.2, 1.1], "nice": false, "zero": false},
                  "axis": {"values": [-0.2, 0, 0.2, 0.4, 0.6, 0.8, 1.0], "format": ".1f", "title": "Test-retest reliability"}},
            "y2": {"field": "hi"},
            "fill": {"field": "s", "type": "nominal",
                     "scale": {"domain": ["ADO: Visit 1", "ADO: Visit 2", "SC: Visit 1", "SC: Visit 2"], "range": ["#2c4f9a", "#5e9de6", "#c4532b", "#ee8d68"]},
                     "legend": null}
          }
        },
        {
          "mark": {"type": "line", "strokeWidth": 2.7},
          "encoding": {
            "x": {"field": "t", "type": "quantitative"},
            "y": {"field": "r", "type": "quantitative"},
            "color": {"field": "s", "type": "nominal",
                      "scale": {"domain": ["ADO: Visit 1", "ADO: Visit 2", "SC: Visit 1", "SC: Visit 2"], "range": ["#2c4f9a", "#5e9de6", "#c4532b", "#ee8d68"]},
                      "legend": null}
          }
        }
      ]
    },
    {
      "width": 555,
      "height": 521,
      "title": {"text": "CRA (N=203)", "subtitle": "𝛽", "subtitlePadding": 31},
      "data": {"name": "curves"},
      "transform": [{"filter": "datum.k === 'CRA'"}],
      "layer": [
        {
          "mark": {"type": "area", "opacity": 0.15},
          "encoding": {
            "x": {"field": "t", "type": "quantitative", "scale": {"domain": [-2.9, 60.9], "nice": false, "zero": false},
                  "axis": {"values": [0, 20, 40, 60], "title": "Trial number"}},
            "y": {"field": "lo", "type": "quantitative", "scale": {"domain": [-0.2, 1.1], "nice": false, "zero": false},
                  "axis": {"values": [-0.2, 0, 0.2, 0.4, 0.6, 0.8, 1.0], "format": ".1f", "title": "Test-retest reliability", "titlePadding": -14}},
            "y2": {"field": "hi"},
            "fill": {"field": "s", "type": "nominal",
                     "scale": {"domain": ["ADO: Visit 1", "ADO: Visit 2", "SC: Visit 1", "SC: Visit 2"], "range": ["#2c4f9a", "#5e9de6", "#c4532b", "#ee8d68"]},
                     "legend": null}
          }
        },
        {
          "mark": {"type": "line", "strokeWidth": 2.7},
          "encoding": {
            "x": {"field": "t", "type": "quantitative"},
            "y": {"field": "r", "type": "quantitative"},
            "color": {"field": "s", "type": "nominal",
                      "scale": {"domain": ["ADO: Visit 1", "ADO: Visit 2", "SC: Visit 1", "SC: Visit 2"], "range": ["#2c4f9a", "#5e9de6", "#c4532b", "#ee8d68"]},
                      "legend": {"title": null, "orient": "none", "legendX": 602, "legendY": 186,
                                 "symbolType": "M-2,0L2,0", "symbolSize": 870, "symbolStrokeWidth": 3, "symbolOpacity": 0.8,
                                 "labelFont": "DejaVu Sans", "labelFontSize": 28, "labelColor": "#222222", "labelLimit": 400,
                                 "labelOffset": 35, "rowPadding": 11, "padding": 0}}
          }
        }
      ]
    }
  ]
}
